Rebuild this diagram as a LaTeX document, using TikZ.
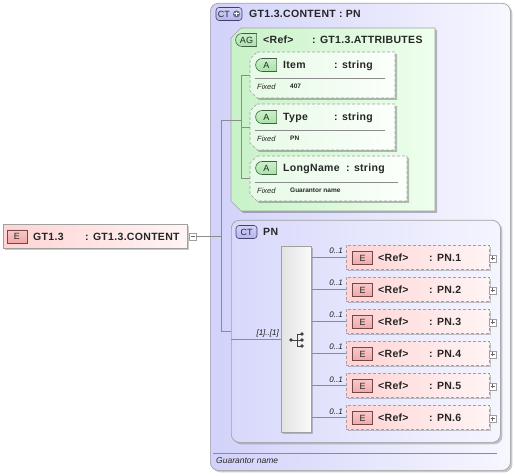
\documentclass[tikz,border=0pt]{standalone}
\usepackage{fontspec}
\setmainfont{Liberation Sans}
\newfontfamily\lblfont[LetterSpace=3]{Liberation Sans}
\usetikzlibrary{shapes.misc,shadows}
\definecolor{ctL}{HTML}{D2D2FA}
\definecolor{ctR}{HTML}{F7F7FF}
\definecolor{agL}{HTML}{C8F2C8}
\definecolor{agR}{HTML}{EEFFEE}
\definecolor{atL}{HTML}{E6FAE6}
\definecolor{atR}{HTML}{FBFFFB}
\definecolor{pnL}{HTML}{D8D8FB}
\definecolor{pnR}{HTML}{F5F5FF}
\definecolor{elL}{HTML}{FFD4D4}
\definecolor{elR}{HTML}{FFF4F4}
\definecolor{eBadge}{HTML}{F2A6A6}
\definecolor{eBorder}{HTML}{704848}
\definecolor{aBadge}{HTML}{A8E4A8}
\definecolor{aBorder}{HTML}{3F5F3F}
\definecolor{cBadge}{HTML}{B4B4F2}
\definecolor{cBorder}{HTML}{404068}
\definecolor{lineC}{HTML}{8C8C8C}
\definecolor{boxC}{HTML}{A0A0A0}
\tikzset{
  shadowed/.style={drop shadow={shadow xshift=2pt,shadow yshift=-2pt,opacity=0.3,fill=black!70}},
  conn/.style={draw=lineC, line width=0.6pt},
  bigbox/.style={draw=boxC, line width=0.7pt, anchor=north west, inner sep=0pt, rounded corners=8pt, shadowed},
  anchorbox/.style={anchor=north west, inner sep=0pt, outer sep=0pt},
  elembox/.style={draw=boxC, dash pattern=on 3pt off 2pt, line width=0.7pt, left color=elL, right color=elR, anchor=north west, inner sep=0pt, minimum width=143pt, minimum height=24pt, shadowed},
  agfill/.style={draw=boxC, line width=0.7pt, left color=agL, right color=agR},
  atfill/.style={draw=boxC, line width=0.7pt, dash pattern=on 3pt off 2pt, left color=atL, right color=atR},
  ebadge/.style={draw=eBorder, line width=0.6pt, top color=eBadge!60, bottom color=eBadge, minimum width=20pt, minimum height=13pt, inner sep=0pt, font=\fontsize{9}{9}\selectfont, text=black!85},
  abadge/.style={rounded rectangle, rounded rectangle right arc=none, draw=aBorder, line width=0.6pt, top color=aBadge!60, bottom color=aBadge, minimum width=21pt, minimum height=13pt, inner sep=0pt, font=\fontsize{9}{9}\selectfont, text=black!85},
  cbadge/.style={draw=cBorder, line width=0.6pt, rounded corners=3pt, top color=cBadge!60, bottom color=cBadge, minimum height=13pt, inner sep=0pt, font=\fontsize{9}{9}\selectfont, text=black!85},
  lbl/.style={anchor=base west, inner sep=0pt, font=\lblfont\bfseries\fontsize{10.5}{11}\selectfont, text=black!85},
  fixlbl/.style={anchor=base west, inner sep=0pt, font=\itshape\fontsize{7.5}{8}\selectfont, text=black!85},
  fixval/.style={anchor=base west, inner sep=0pt, font=\bfseries\fontsize{6.5}{7}\selectfont, text=black!85},
  card/.style={anchor=base east, inner sep=0pt, font=\itshape\fontsize{8}{8}\selectfont, text=black!90},
  pmbox/.style={draw=boxC, fill=white, line width=0.5pt, minimum size=7pt, inner sep=0pt},
  sep/.style={draw=lineC, line width=0.6pt}
}
% chamfered box: x, y, width, height, chamfer, style
\newcommand{\chamfbox}[6]{%
  \fill[black, opacity=0.25] (#1+2+#5,#2+2) -- (#1+2+#3,#2+2) -- (#1+2+#3,#2+2+#4) -- (#1+2+#5,#2+2+#4) -- (#1+2,#2+2+#4-#5) -- (#1+2,#2+2+#5) -- cycle;
  \path[#6] (#1+#5,#2) -- (#1+#3,#2) -- (#1+#3,#2+#4) -- (#1+#5,#2+#4) -- (#1,#2+#4-#5) -- (#1,#2+#5) -- cycle;}
\begin{document}
\begin{tikzpicture}[x=1pt,y=-1pt]
\useasboundingbox (0,0) rectangle (515,476);

% outer element GT1.3
\node[elembox, solid, minimum width=184pt, minimum height=24pt] (gt) at (3,224) {};
\node[ebadge] (gtbadge) at (17,236.5) {E};
\node[lbl] (gtname) at (33,240.5) {GT1.3};
\node[lbl] (gttype) at (85,240.5) {: GT1.3.CONTENT};
\node[pmbox] (gtminus) at (192.5,236.5) {};
\draw[line width=0.5pt, black!60] (gtminus.center) ++(-2,0) -- ++(4,0);

% complex type box
\node[bigbox, left color=ctL, right color=ctR, minimum width=300pt, minimum height=467pt] (ct) at (210,3) {};
\node[cbadge, minimum width=26pt] (ctbadge) at (229,14) {};
\node[anchor=west, inner sep=0pt, font=\fontsize{9}{9}\selectfont, text=black!85] (ctbadgetxt) at ([xshift=2pt]ctbadge.west) {CT};
\node[circle, fill=cBorder!80, minimum size=7pt, inner sep=0pt] (ctplus) at (236.5,14) {};
\draw[white, line width=1pt] (ctplus.center) ++(-2.2,0) -- ++(4.4,0) (ctplus.center) ++(0,-2.2) -- ++(0,4.4);
\node[lbl] (cttitle) at (249,18) {GT1.3.CONTENT : PN};
\draw[sep] (213,453) -- (497,453);
\node[anchor=base west, inner sep=0pt, font=\itshape\fontsize{8.5}{9}\selectfont, text=black!85] (ctdoc) at (216,464) {Guarantor name};

% attribute group
\chamfbox{231}{28}{204}{183}{10}{agfill}
\node[anchorbox, minimum width=204pt, minimum height=183pt] (ag) at (231,28) {};
\node[abadge] (agbadge) at (246.5,40) {AG};
\node[lbl] (agref) at (263,44) {<Ref>};
\node[lbl] (agtype) at (312,44) {: GT1.3.ATTRIBUTES};

% attributes
\chamfbox{250}{52}{145}{46}{7}{atfill}
\node[anchorbox, minimum width=145pt, minimum height=46pt] (item) at (250,52) {};
\node[abadge] (itembadge) at (266.5,65) {A};
\node[lbl] (itemname) at (283,69) {Item};
\node[lbl] (itemtype) at (334,69) {: string};
\draw[sep] (255,78) -- (385,78);
\node[fixlbl] (itemfix) at (257,90) {Fixed};
\node[fixval] (itemval) at (290,89) {407};

\chamfbox{250}{104}{145}{46}{7}{atfill}
\node[anchorbox, minimum width=145pt, minimum height=46pt] (type) at (250,104) {};
\node[abadge] (typebadge) at (266.5,117) {A};
\node[lbl] (typename) at (283,121) {Type};
\node[lbl] (typetype) at (334,121) {: string};
\draw[sep] (255,130) -- (385,130);
\node[fixlbl] (typefix) at (257,142) {Fixed};
\node[fixval] (typeval) at (290,141) {PN};

\chamfbox{250}{156}{157}{45}{7}{atfill}
\node[anchorbox, minimum width=157pt, minimum height=45pt] (long) at (250,156) {};
\node[abadge] (longbadge) at (266.5,168) {A};
\node[lbl] (longname) at (283,172) {LongName};
\node[lbl] (longtype) at (346,172) {: string};
\draw[sep] (255,182) -- (398,182);
\node[fixlbl] (longfix) at (257,194) {Fixed};
\node[fixval] (longval) at (290,193) {Guarantor name};

% PN complex type
\node[bigbox, left color=pnL, right color=pnR, minimum width=269pt, minimum height=222pt] (pn) at (231,220) {};
\node[cbadge, minimum width=21pt] (pnbadge) at (246.5,232) {CT};
\node[lbl] (pnname) at (263,236) {PN};

% sequence compositor
\node[draw=boxC, line width=0.7pt, left color=gray!22, right color=gray!4, anchor=north west, inner sep=0pt, minimum width=30pt, minimum height=186pt, shadowed] (seq) at (281,246) {};
\begin{scope}[fill=black!75, draw=black!75, line width=0.7pt]
\draw (291,340) -- (297,340) (297,334) -- (297,346) (297,334) -- (302,334) (297,340) -- (302,340) (297,346) -- (302,346);
\fill (291,340) circle (1.8pt) (302,334) circle (1.8pt) (302,340) circle (1.8pt) (302,346) circle (1.8pt);
\end{scope}

% elements
\foreach \i in {1,...,6} {
  \pgfmathsetmacro{\yy}{245+32*(\i-1)}
  \node[elembox] (e\i) at (346,\yy) {};
  \node[ebadge] (e\i badge) at (362.5,\yy+13) {E};
  \node[lbl] (e\i ref) at (378,\yy+16.5) {<Ref>};
  \node[lbl] (e\i type) at (429,\yy+16.5) {: PN.\i};
  \node[pmbox] (e\i plus) at (492.5,\yy+13.5) {};
  \draw[line width=0.5pt, black!60] (e\i plus.center) ++(-2,0) -- ++(4,0) (e\i plus.center) ++(0,-2) -- ++(0,4);
  \draw[conn] (seq.east |- e\i.west) -- (e\i.west);
  \node[card] (e\i card) at (343,\yy+9) {0..1};
}

% connectors
\coordinate (tA) at (221,120);
\coordinate (tB) at (221,331);
\coordinate (aT) at (241,75);
\draw[conn] (gtminus.east) -- (tA |- gtminus.east);
\draw[conn] (tA) -- (tB) -- (pn.west |- tB);
\draw[conn] (tA) -- (aT |- tA);
\draw[conn] (aT |- item.west) -- (aT |- long.west);
\draw[conn] (aT |- item.west) -- (item.west);
\draw[conn] (aT |- type.west) -- (type.west);
\draw[conn] (aT |- long.west) -- (long.west);
\draw[conn] (pn.west |- seq.west) -- (seq.west);
\node[card] (seqcard) at (279,336) {[1]..[1]};
\end{tikzpicture}
\end{document}
